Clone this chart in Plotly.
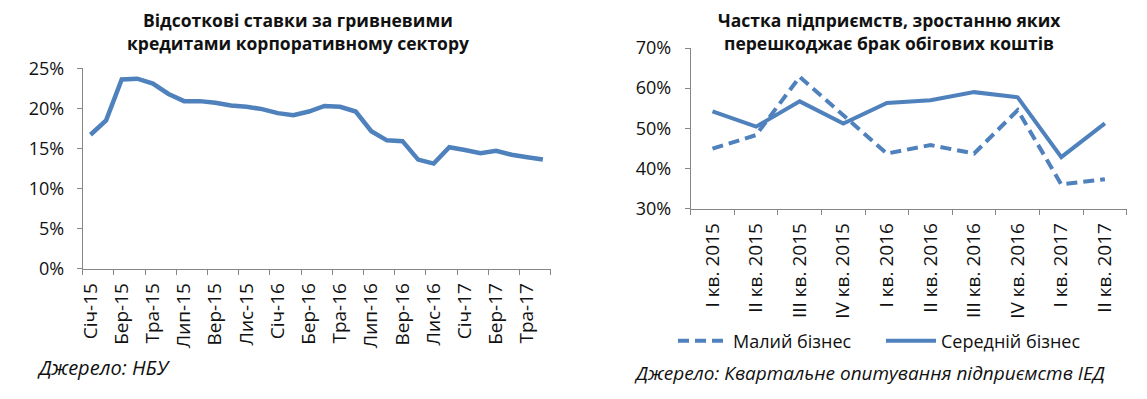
import plotly.graph_objects as go

# Target picture size; the page body keeps its default 8px margin,
# so the figure is drawn 8px smaller and all target pixel positions are shifted by 8.
W, H = 1147, 399
OFF = 8
FW, FH = W - 2 * OFF, H - 2 * OFF

# ---------------- data ----------------
months = ["Січ-15", "Лют-15", "Бер-15", "Кві-15", "Тра-15", "Чер-15", "Лип-15", "Сер-15", "Вер-15", "Жов-15", "Лис-15", "Гру-15",
          "Січ-16", "Лют-16", "Бер-16", "Кві-16", "Тра-16", "Чер-16", "Лип-16", "Сер-16", "Вер-16", "Жов-16", "Лис-16", "Гру-16",
          "Січ-17", "Лют-17", "Бер-17", "Кві-17", "Тра-17", "Чер-17"]
rates = [16.7, 18.5, 23.6, 23.7, 23.1, 21.8, 20.9, 20.9, 20.7, 20.35, 20.2, 19.9,
         19.4, 19.15, 19.6, 20.3, 20.2, 19.6, 17.15, 16.0, 15.9, 13.6, 13.1, 15.15,
         14.8, 14.4, 14.7, 14.2, 13.9, 13.6]

quarters = ["I кв. 2015", "II кв. 2015", "III кв. 2015", "IV кв. 2015",
            "I кв. 2016", "II кв. 2016", "III кв. 2016", "IV кв. 2016",
            "I кв. 2017", "II кв. 2017"]
small_biz = [44.9, 48.3, 62.8, 53.3, 43.7, 45.8, 43.7, 54.5, 36.0, 37.3]
medium_biz = [54.2, 50.4, 56.7, 51.2, 56.3, 57.0, 59.0, 57.7, 42.8, 51.2]

left_yticks = [0, 5, 10, 15, 20, 25]
right_yticks = [30, 40, 50, 60, 70]

title_left = ["Відсоткові ставки за гривневими", "кредитами корпоративному сектору"]
title_right = ["Частка підприємств, зростанню яких", "перешкоджає брак обігових коштів"]
source_left = "Джерело: НБУ"
source_right = "Джерело: Квартальне опитування підприємств ІЕД"

# ---------------- style ----------------
BLUE = "#4F81BD"
AXIS = "#868686"
FONT = "Open Sans"
TXT = "#111111"


def px_x(x):
    return (x - OFF) / FW


def px_y(y):
    return 1 - (y - OFF) / FH


fig = go.Figure()

fig.add_trace(go.Scatter(
    x=list(range(len(months))), y=rates, mode="lines",
    line=dict(color=BLUE, width=4.5), showlegend=False,
    xaxis="x", yaxis="y", hovertext=months))

fig.add_trace(go.Scatter(
    x=list(range(len(quarters))), y=small_biz, mode="lines", name="Малий бізнес",
    line=dict(color=BLUE, width=4, dash="11px,6px"),
    xaxis="x2", yaxis="y2", hovertext=quarters, legend="legend"))
fig.add_trace(go.Scatter(
    x=list(range(len(quarters))), y=medium_biz, mode="lines", name="Середній бізнес",
    line=dict(color=BLUE, width=4),
    xaxis="x2", yaxis="y2", hovertext=quarters, legend="legend2"))

xtickfont = dict(family=FONT, size=19, color=TXT)
ytickfont = dict(family=FONT, size=18, color=TXT)
legfont = dict(family=FONT, size=18, color=TXT)

left_ticks_idx = list(range(0, len(months), 2))
fig.update_layout(
    width=FW, height=FH, autosize=False,
    margin=dict(l=0, r=0, t=0, b=0, autoexpand=False),
    paper_bgcolor="white", plot_bgcolor="white",
    font=dict(family=FONT, color=TXT),
    xaxis=dict(
        domain=[px_x(82.7), px_x(550.7)], range=[-0.5, len(months) - 0.5],
        anchor="y", showgrid=False, zeroline=False, automargin=False,
        showline=True, linecolor=AXIS, linewidth=1,
        tickmode="array", tickvals=left_ticks_idx,
        ticktext=[months[i] for i in left_ticks_idx],
        ticks="", tickangle=-90, tickfont=xtickfont, ticklabelstandoff=6,
        minor=dict(tickmode="array", tickvals=[i - 0.5 for i in range(0, len(months) + 1, 2)],
                   ticks="outside", ticklen=5, tickcolor=AXIS, tickwidth=1, showgrid=False),
    ),
    yaxis=dict(
        domain=[px_y(268.5), px_y(68.3)], range=[0, 25], anchor="x",
        showgrid=False, zeroline=False, automargin=False,
        showline=True, linecolor=AXIS, linewidth=1,
        tickmode="array", tickvals=left_yticks, ticktext=[f"{v}%" for v in left_yticks],
        ticks="outside", ticklen=5, tickcolor=AXIS, tickfont=ytickfont,
        ticklabelstandoff=9,
    ),
    xaxis2=dict(
        domain=[px_x(690.7), px_x(1126.7)], range=[-0.5, len(quarters) - 0.5],
        anchor="y2", showgrid=False, zeroline=False, automargin=False,
        showline=True, linecolor=AXIS, linewidth=1,
        tickmode="array", tickvals=list(range(len(quarters))), ticktext=quarters,
        ticks="", tickangle=-90, tickfont=xtickfont, ticklabelstandoff=6,
        minor=dict(tickmode="array", tickvals=[i - 0.5 for i in range(len(quarters) + 1)],
                   ticks="outside", ticklen=5, tickcolor=AXIS, tickwidth=1, showgrid=False),
    ),
    yaxis2=dict(
        domain=[px_y(208.5), px_y(48)], range=[30, 70], anchor="x2",
        showgrid=False, zeroline=False, automargin=False,
        showline=True, linecolor=AXIS, linewidth=1,
        tickmode="array", tickvals=right_yticks, ticktext=[f"{v}%" for v in right_yticks],
        ticks="outside", ticklen=5, tickcolor=AXIS, tickfont=ytickfont,
        ticklabelstandoff=10,
    ),
    legend=dict(
        orientation="h", x=px_x(673), y=px_y(341), xanchor="left", yanchor="middle",
        font=legfont, itemwidth=50, bgcolor="rgba(0,0,0,0)",
    ),
    legend2=dict(
        orientation="h", x=px_x(881), y=px_y(341), xanchor="left", yanchor="middle",
        font=legfont, itemwidth=50, bgcolor="rgba(0,0,0,0)",
    ),
)

annotations = []
for i, t in enumerate(title_left):
    annotations.append(dict(text="<b>" + t + "</b>", x=px_x(298), y=px_y(20 + 23 * i),
                            xref="paper", yref="paper", showarrow=False,
                            xanchor="center", yanchor="middle",
                            font=dict(family=FONT, size=17.5, color=TXT)))
for i, t in enumerate(title_right):
    annotations.append(dict(text="<b>" + t + "</b>", x=px_x(889), y=px_y(20 + 23 * i),
                            xref="paper", yref="paper", showarrow=False,
                            xanchor="center", yanchor="middle",
                            font=dict(family=FONT, size=17.5, color=TXT)))
annotations.append(dict(text="<i>" + source_left + "</i>", x=px_x(35), y=px_y(367),
                        xref="paper", yref="paper", showarrow=False,
                        xanchor="left", yanchor="middle",
                        font=dict(family=FONT, size=20, color=TXT)))
annotations.append(dict(text="<i>" + source_right + "</i>", x=px_x(632), y=px_y(373),
                        xref="paper", yref="paper", showarrow=False,
                        xanchor="left", yanchor="middle",
                        font=dict(family=FONT, size=19, color=TXT)))
fig.update_layout(annotations=annotations)

fig.write_html("out.html")
